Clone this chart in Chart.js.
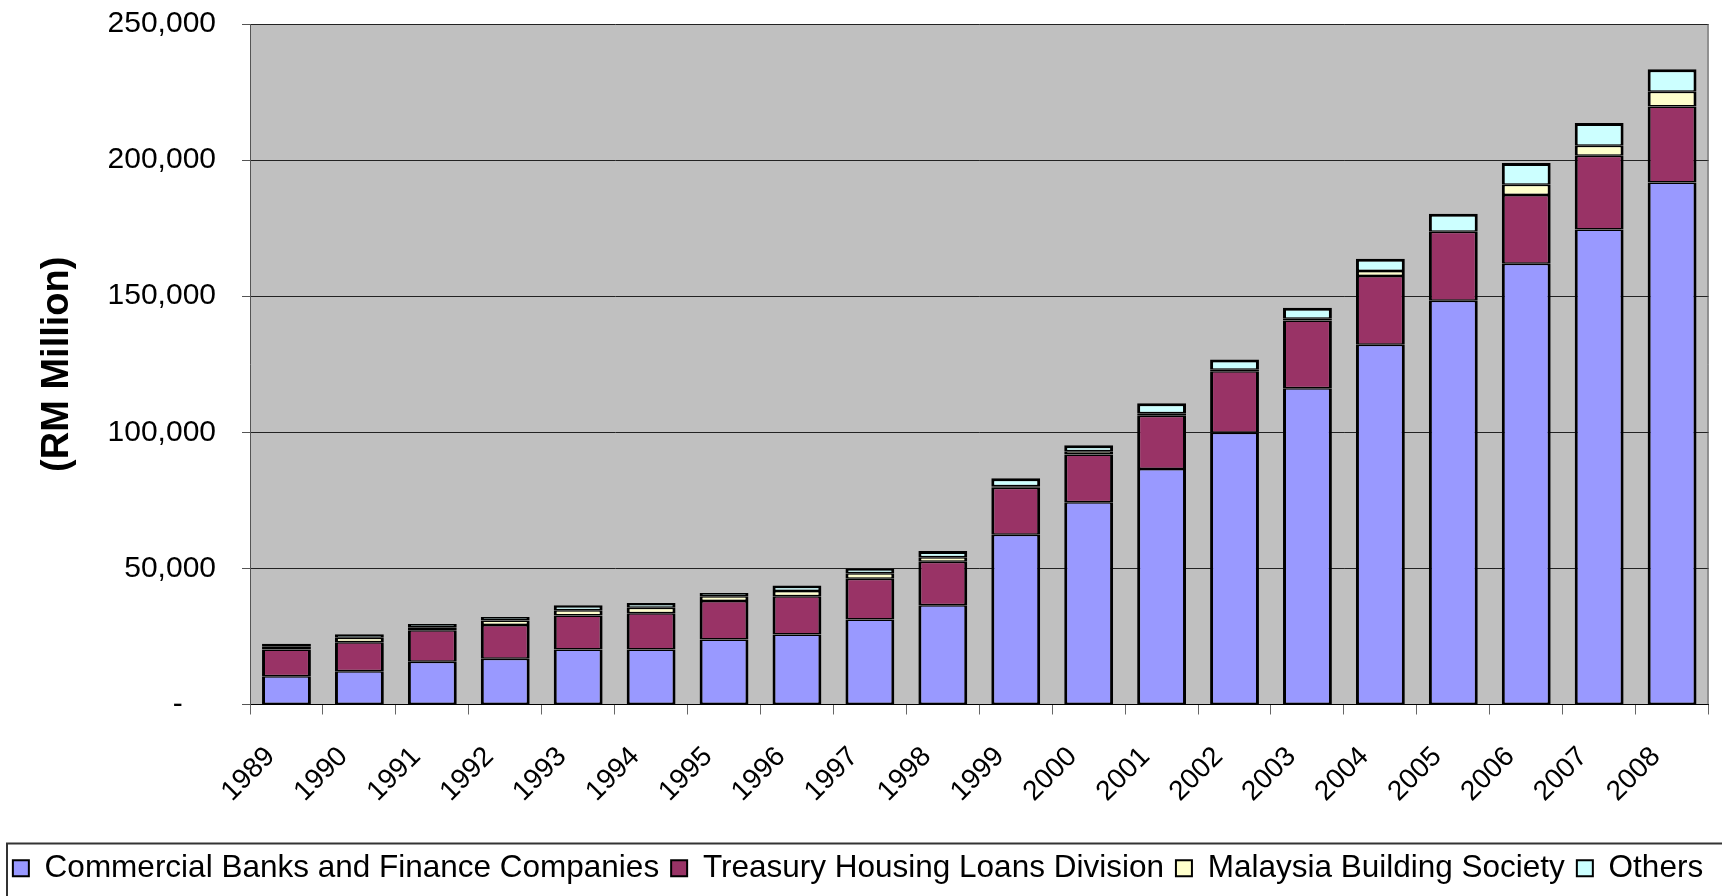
<!DOCTYPE html>
<html>
<head>
<meta charset="utf-8">
<script src="https://cdn.jsdelivr.net/npm/chart.js@4/dist/chart.umd.min.js"></script>
<style>
  html, body { margin: 0; padding: 0; background: #fff; }
  #wrap { width: 1722px; height: 896px; }
</style>
</head>
<body>
<div id="wrap"><canvas id="housingChart"></canvas></div>
<script>
// Housing loans outstanding by lender (RM Million)
const years = ['1989', '1990', '1991', '1992', '1993', '1994', '1995', '1996', '1997', '1998',
               '1999', '2000', '2001', '2002', '2003', '2004', '2005', '2006', '2007', '2008'];

const commercialBanks = [10400, 12200, 15700, 16800, 20200, 20200, 23900, 25700, 31200, 36500,
                         62400, 74300, 86500, 99800, 116200, 132200, 148300, 161900, 174500, 191800];
const treasuryLoans = [9800, 10700, 11600, 12400, 12500, 13300, 14100, 14100, 15000, 15900,
                       17200, 17500, 19600, 22600, 24900, 25200, 25400, 25300, 27100, 27900];
const buildingSociety = [1000, 1600, 1100, 1700, 1900, 2000, 1800, 1900, 2000, 1700,
                         600, 1200, 900, 600, 600, 1900, 0, 3700, 3700, 5400];
const others = [1100, 1300, 1200, 1200, 1900, 1800, 1200, 2000, 1800, 2300,
                2900, 2200, 3700, 3700, 4100, 4500, 6600, 8000, 8300, 8300];

const yMax = 250000;
const yStep = 50000;

const FONT = '"Liberation Sans", Arial, sans-serif';

// grey plot area, right edge line and the frame round the legend
const chartDecor = {
    id: 'chartDecor',
    beforeDraw(chart) {
        const { ctx, chartArea: a } = chart;
        ctx.save();
        ctx.fillStyle = '#c0c0c0';
        ctx.fillRect(a.left, a.top, a.right - a.left, a.bottom - a.top);
        ctx.restore();
    },
    beforeDatasetsDraw(chart) {
        const { ctx, chartArea: a } = chart;
        ctx.save();
        ctx.strokeStyle = '#555';
        ctx.lineWidth = 1;
        ctx.beginPath();
        ctx.moveTo(a.right - 0.5, a.top);
        ctx.lineTo(a.right - 0.5, a.bottom);
        ctx.stroke();
        ctx.restore();
    },
    afterDraw(chart) {
        const { ctx, legend } = chart;
        ctx.save();
        ctx.strokeStyle = '#333';
        ctx.lineWidth = 2;
        ctx.strokeRect(7, legend.top + 3, chart.width + 10, 100);
        ctx.restore();
    }
};

// joints between stacked pieces come out about 3px, like the original
function makeSet(label, data, color, topEdge) {
    return {
        label: label,
        data: data,
        backgroundColor: color,
        borderColor: '#000',
        borderWidth: { top: topEdge, bottom: 1.5, left: 3, right: 3 },
        borderSkipped: false,
        categoryPercentage: 1.0,
        barPercentage: 0.67
    };
}

const canvas = document.getElementById('housingChart');

new Chart(canvas, {
    type: 'bar',
    data: {
        labels: years,
        datasets: [
            makeSet('Commercial Banks and Finance Companies', commercialBanks, '#9999ff', 1.5),
            makeSet('Treasury Housing Loans Division', treasuryLoans, '#993366', 1.5),
            makeSet('Malaysia Building Society', buildingSociety, '#ffffcc', 1.5),
            makeSet('Others', others, '#ccffff', 3)
        ]
    },
    options: {
        responsive: true,
        maintainAspectRatio: false,
        animation: false,
        layout: { padding: { top: 24, right: 6, bottom: 2, left: 0 } },
        plugins: {
            tooltip: { enabled: false },
            legend: {
                position: 'bottom',
                labels: {
                    color: '#000',
                    font: { family: FONT, size: 31.5 },
                    boxWidth: 16,
                    boxHeight: 16,
                    padding: 12,
                    generateLabels(chart) {
                        const items = Chart.defaults.plugins.legend.labels.generateLabels(chart);
                        items.forEach(item => { item.lineWidth = 2; });
                        return items;
                    }
                }
            }
        },
        scales: {
            x: {
                stacked: true,
                afterFit(scale) { scale.height = 136; },
                grid: {
                    offset: true,
                    drawOnChartArea: false,
                    drawTicks: true,
                    tickLength: 10,
                    tickColor: '#666'
                },
                border: { color: '#000', width: 1 },
                ticks: {
                    color: '#000',
                    font: { family: FONT, size: 28 },
                    minRotation: 45,
                    maxRotation: 45,
                    autoSkip: false,
                    padding: 26,
                    labelOffset: -16
                }
            },
            y: {
                stacked: true,
                min: 0,
                max: yMax,
                afterFit(scale) {
                    scale.width = 250;
                    scale.paddingTop = 0;
                    scale.paddingBottom = 0;
                },
                grid: {
                    color: '#222',
                    lineWidth: 1,
                    tickLength: 8,
                    tickColor: '#555'
                },
                border: { color: '#555', width: 1 },
                ticks: {
                    stepSize: yStep,
                    color: '#000',
                    font: { family: FONT, size: 30 },
                    padding: 26,
                    callback: function(value) {
                        return value === 0 ? '-    ' : value.toLocaleString('en-US');
                    }
                },
                title: {
                    display: true,
                    text: '(RM Million)',
                    color: '#000',
                    font: { family: FONT, size: 38, weight: 'bold' },
                    padding: { top: 35, bottom: 0 }
                }
            }
        }
    },
    plugins: [chartDecor]
});
</script>
</body>
</html>
